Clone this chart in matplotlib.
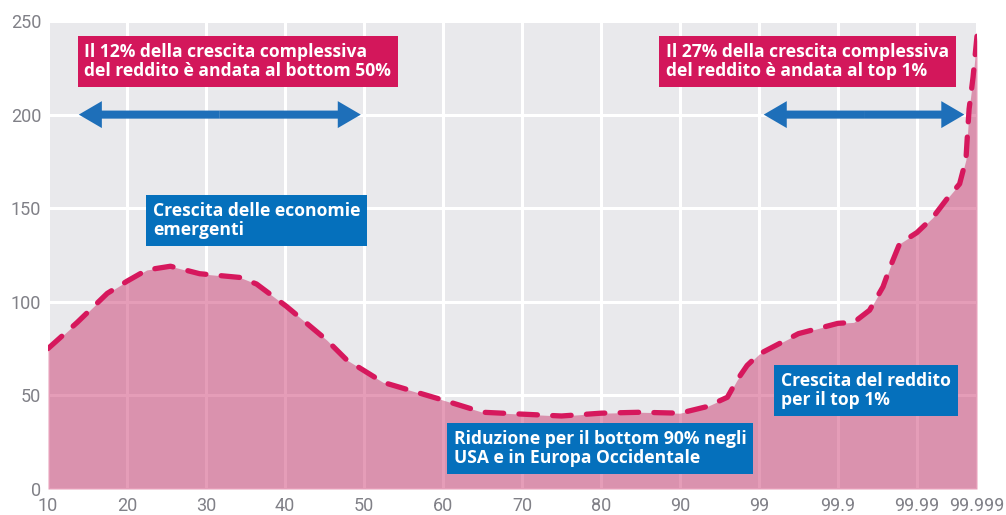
import matplotlib.pyplot as plt

plt.rcParams['font.family'] = ['Roboto', 'DejaVu Sans']

# x axis: income groups (axis position -> label)
tick_pos = [0, 1, 2, 3, 4, 5, 6, 7, 8, 9, 10, 11, 11.76]
tick_labels = ["10", "20", "30", "40", "50", "60", "70", "80", "90",
               "99", "99.9", "99.99", "99.999"]
y_ticks = [0, 50, 100, 150, 200, 250]

curve_x = [0, 0.37, 0.75, 1.0, 1.25, 1.55, 1.92, 2.43, 2.64, 3.02, 3.53, 3.78,
           4.24, 4.8, 5.0, 5.5, 6.0, 6.5, 7.0, 7.5, 8.0, 8.34, 8.6, 8.72,
           8.85, 9.0, 9.5, 10.0, 10.2, 10.4, 10.57, 10.66, 10.78, 11.0, 11.2,
           11.38, 11.54, 11.62, 11.64, 11.66, 11.71, 11.76]
curve_y = [75, 89, 104.5, 111, 117, 119, 115, 113, 109.5, 97.5, 79.5, 69,
           57, 50, 47.5, 41, 40, 39, 40.5, 41, 40.5, 44, 49, 58,
           66, 72, 83, 88.5, 89, 95.5, 108, 118.5, 131, 137, 145,
           155, 163, 176, 190, 203, 220, 242]

# double arrows at y = 200 (start, end)
arrow_left = (0.39, 3.96)
arrow_right = (9.06, 11.60)
arrow_level = 200

# annotation boxes: (x, y top, text, colour)
pink = "#D3175B"
blue = "#0570BC"
notes = [
    (0.46, 238.5, "Il 12% della crescita complessiva\ndel reddito è andata al bottom 50%", pink),
    (7.82, 238.5, "Il 27% della crescita complessiva\ndel reddito è andata al top 1%", pink),
    (1.33, 153.5, "Crescita delle economie\nemergenti", blue),
    (9.28, 62.5, "Crescita del reddito\nper il top 1%", blue),
    (5.14, 31.5, "Riduzione per il bottom 90% negli\nUSA e in Europa Occidentale", blue),
]

fig = plt.figure(figsize=(10.06, 5.15), dpi=100)
ax = fig.add_axes([48 / 1006, 26 / 515, 929 / 1006, 468 / 515])
ax.set_facecolor("#E9E9EC")

ax.fill_between(curve_x, curve_y, 0, color="#CD3D72", alpha=0.5, lw=0, zorder=1)
line, = ax.plot(curve_x, curve_y, color="#D6185D", lw=3.8, zorder=2,
                dash_capstyle="round", solid_joinstyle="round")
line.set_dashes((3.5, 2.9))

for a, b in (arrow_left, arrow_right):
    mid = (a + b) / 2
    for end in (a, b):
        ax.annotate("", xy=(end, arrow_level), xytext=(mid, arrow_level),
                    arrowprops=dict(arrowstyle="simple,head_length=0.83,head_width=0.97,tail_width=0.29",
                                    mutation_scale=20, color="#1E6FB9", lw=0,
                                    shrinkA=0, shrinkB=0),
                    zorder=4)

for x, y, s, c in notes:
    ax.text(x, y, s, ha="left", va="top", color="white", fontsize=12.6,
            fontweight="bold", family=["Open Sans", "DejaVu Sans"],
            linespacing=1.1, zorder=5,
            bbox=dict(boxstyle="square,pad=0.38", fc=c, ec="none"))

ax.set_xlim(0, 11.76)
ax.set_ylim(0, 250)
ax.set_xticks(tick_pos)
ax.set_xticklabels(tick_labels)
ax.set_yticks(y_ticks)
ax.tick_params(length=0, labelsize=13, labelcolor="#808087")
ax.tick_params(axis="x", pad=6)
ax.tick_params(axis="y", pad=5)
ax.grid(True, color="white", lw=2.2)
ax.set_axisbelow(True)
for sp in ax.spines.values():
    sp.set_visible(False)

fig.savefig("out.png", dpi=100)
